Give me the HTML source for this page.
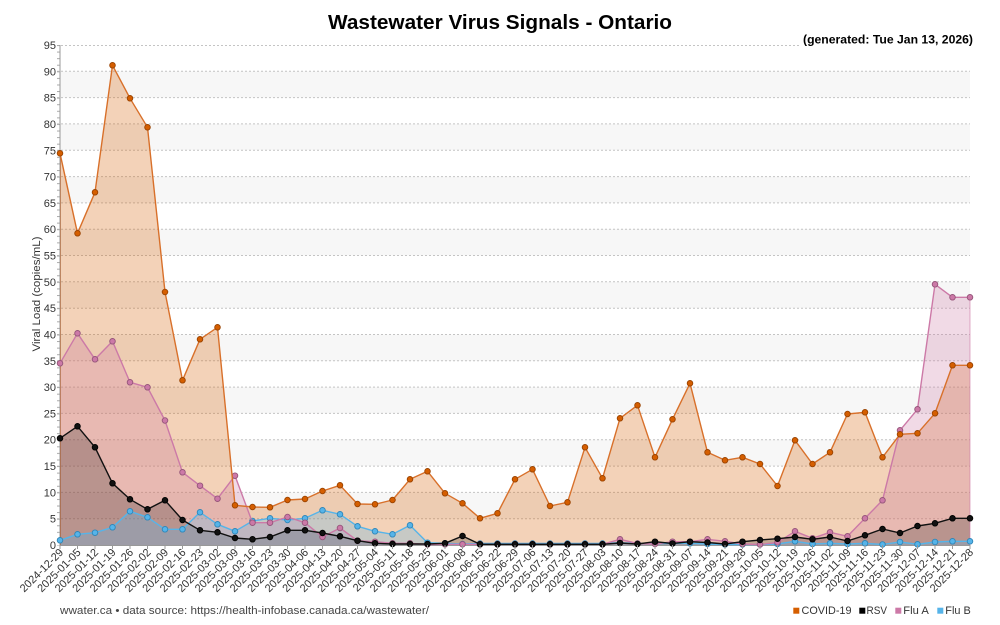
<!DOCTYPE html>
<html><head><meta charset="utf-8"><style>
html,body{margin:0;padding:0;background:#fff;}
svg{display:block;}
text{font-family:"Liberation Sans","DejaVu Sans",sans-serif;}
</style></head><body>
<svg width="1000" height="625" viewBox="0 0 1000 625" xmlns="http://www.w3.org/2000/svg">
<defs>
<pattern id="mt" x="0" y="45" width="10" height="6.5789" patternUnits="userSpaceOnUse"><rect x="0" y="0" width="10" height="1" fill="#aaa"/></pattern>
<marker id="mC" markerWidth="8" markerHeight="8" refX="4" refY="4" markerUnits="userSpaceOnUse"><circle cx="4" cy="4" r="2.8" fill="#d55e00" stroke="#9a4300" stroke-width="0.9"/></marker>
<marker id="mA" markerWidth="8" markerHeight="8" refX="4" refY="4" markerUnits="userSpaceOnUse"><circle cx="4" cy="4" r="2.8" fill="#cc79a7" stroke="#95557a" stroke-width="0.9"/></marker>
<marker id="mR" markerWidth="8" markerHeight="8" refX="4" refY="4" markerUnits="userSpaceOnUse"><circle cx="4" cy="4" r="2.8" fill="#111" stroke="#000" stroke-width="0.9"/></marker>
<marker id="mB" markerWidth="8" markerHeight="8" refX="4" refY="4" markerUnits="userSpaceOnUse"><circle cx="4" cy="4" r="2.8" fill="#56b4e9" stroke="#2f86b8" stroke-width="0.9"/></marker>
</defs>

<!-- bands -->
<g fill="#f7f7f7">
<rect x="60" y="71.3" width="910" height="26.3"/>
<rect x="60" y="123.9" width="910" height="26.3"/>
<rect x="60" y="176.6" width="910" height="26.3"/>
<rect x="60" y="229.2" width="910" height="26.3"/>
<rect x="60" y="281.8" width="910" height="26.3"/>
<rect x="60" y="334.5" width="910" height="26.3"/>
<rect x="60" y="387.1" width="910" height="26.3"/>
<rect x="60" y="439.7" width="910" height="26.3"/>
<rect x="60" y="492.4" width="910" height="26.3"/>
</g>
<!-- grid -->
<g stroke="#c4c4c4" stroke-width="1" stroke-dasharray="2 2">
<line x1="57" y1="45.5" x2="970" y2="45.5"/>
<line x1="57" y1="71.3" x2="970" y2="71.3"/>
<line x1="57" y1="97.6" x2="970" y2="97.6"/>
<line x1="57" y1="123.9" x2="970" y2="123.9"/>
<line x1="57" y1="150.3" x2="970" y2="150.3"/>
<line x1="57" y1="176.6" x2="970" y2="176.6"/>
<line x1="57" y1="202.9" x2="970" y2="202.9"/>
<line x1="57" y1="229.2" x2="970" y2="229.2"/>
<line x1="57" y1="255.5" x2="970" y2="255.5"/>
<line x1="57" y1="281.8" x2="970" y2="281.8"/>
<line x1="57" y1="308.2" x2="970" y2="308.2"/>
<line x1="57" y1="334.5" x2="970" y2="334.5"/>
<line x1="57" y1="360.8" x2="970" y2="360.8"/>
<line x1="57" y1="387.1" x2="970" y2="387.1"/>
<line x1="57" y1="413.4" x2="970" y2="413.4"/>
<line x1="57" y1="439.7" x2="970" y2="439.7"/>
<line x1="57" y1="466.1" x2="970" y2="466.1"/>
<line x1="57" y1="492.4" x2="970" y2="492.4"/>
<line x1="57" y1="518.7" x2="970" y2="518.7"/>
</g>
<rect x="57" y="44.5" width="3" height="501" fill="url(#mt)"/>
<line x1="60" y1="45" x2="60" y2="545" stroke="#999" stroke-width="1"/>

<!-- fills -->
<path fill="#d55e00" fill-opacity="0.28" d="M60,545 L60,153.3 77.5,233.3 95,192.3 112.5,65.3 130,98.3 147.5,127.3 165,292 182.5,380.3 200,339.3 217.5,327.3 235,505.3 252.5,507 270,507.3 287.5,500 305,499 322.5,491 340,485.3 357.5,504 375,504.3 392.5,500 410,479.3 427.5,471.3 445,493.3 462.5,503.3 480,518.3 497.5,513.3 515,479.3 532.5,469.3 550,506 567.5,502.3 585,447.3 602.5,478.3 620,418.3 637.5,405.3 655,457.3 672.5,419.3 690,383.3 707.5,452.3 725,460.3 742.5,457.3 760,464 777.5,486 795,440.3 812.5,464 830,452.3 847.5,414 865,412.3 882.5,457.3 900,434.3 917.5,433.3 935,413.3 952.5,365.3 970,365.3 L970,545 Z"/>
<path fill="#cc79a7" fill-opacity="0.28" d="M60,545 L60,363.3 77.5,333.3 95,359.3 112.5,341.3 130,382.3 147.5,387.3 165,420.5 182.5,472.3 200,485.7 217.5,498.7 235,475.7 252.5,522.7 270,522.7 287.5,517 305,522.7 322.5,537 340,528 357.5,540.7 375,541.7 392.5,543.3 410,543.3 427.5,544.5 445,544.3 462.5,544.3 480,544.3 497.5,544.3 515,544.3 532.5,544.3 550,544.3 567.5,544.3 585,544.3 602.5,544.3 620,539.3 637.5,543.5 655,544 672.5,541.7 690,541.7 707.5,539.3 725,541.3 742.5,544 760,544.5 777.5,542.5 795,531.3 812.5,538.3 830,532.3 847.5,536.3 865,518.3 882.5,500.3 900,430.3 917.5,409.3 935,284.3 952.5,297.3 970,297.3 L970,545 Z"/>
<path fill="#000" fill-opacity="0.2" d="M60,545 L60,438.3 77.5,426.3 95,447.3 112.5,483.3 130,499.3 147.5,509.3 165,500.3 182.5,520 200,530.3 217.5,532.3 235,538 252.5,539.3 270,537 287.5,530.3 305,530.3 322.5,533 340,536.3 357.5,540.7 375,543.3 392.5,544 410,544 427.5,544 445,543.3 462.5,536 480,544.3 497.5,544.3 515,544.3 532.5,544.3 550,544.3 567.5,544.3 585,544.3 602.5,544.3 620,543 637.5,544 655,541.7 672.5,543.5 690,541.7 707.5,542.5 725,544 742.5,541.7 760,540 777.5,538.7 795,537 812.5,539.3 830,537 847.5,541 865,535.3 882.5,529 900,533 917.5,526 935,523.3 952.5,518.3 970,518.3 L970,545 Z"/>
<path fill="#56b4e9" fill-opacity="0.28" d="M60,545 L60,540.3 77.5,534.3 95,532.7 112.5,527.3 130,511.3 147.5,517.3 165,529.3 182.5,529.3 200,512.3 217.5,524.3 235,531.3 252.5,521 270,518.3 287.5,520 305,518.3 322.5,510.3 340,514.3 357.5,526.3 375,531.3 392.5,534.3 410,525.3 427.5,542.7 445,543.3 462.5,544 480,543.5 497.5,543.5 515,543.5 532.5,543.5 550,543.5 567.5,543.5 585,543.5 602.5,543.5 620,542.7 637.5,543.5 655,543.5 672.5,543.3 690,543.3 707.5,544 725,544.5 742.5,544.5 760,544.5 777.5,544 795,541.3 812.5,544 830,543.3 847.5,544 865,543.3 882.5,544.5 900,542 917.5,544.3 935,542 952.5,541.3 970,541.3 L970,545 Z"/>
<!-- edge strokes -->
<line x1="60.5" y1="153.3" x2="60.5" y2="545" stroke="#b06a40" stroke-opacity="0.6"/>
<line x1="970" y1="297.3" x2="970" y2="545" stroke="#cc79a7" stroke-opacity="0.6"/>

<!-- axis -->
<line x1="60" y1="545.5" x2="970" y2="545.5" stroke="#999" stroke-width="1"/>

<!-- lines -->
<g fill="none" stroke-width="1.4" stroke-linejoin="round">
<polyline stroke="#56b4e9" marker-start="url(#mB)" marker-mid="url(#mB)" marker-end="url(#mB)" points="60,540.3 77.5,534.3 95,532.7 112.5,527.3 130,511.3 147.5,517.3 165,529.3 182.5,529.3 200,512.3 217.5,524.3 235,531.3 252.5,521 270,518.3 287.5,520 305,518.3 322.5,510.3 340,514.3 357.5,526.3 375,531.3 392.5,534.3 410,525.3 427.5,542.7 445,543.3 462.5,544 480,543.5 497.5,543.5 515,543.5 532.5,543.5 550,543.5 567.5,543.5 585,543.5 602.5,543.5 620,542.7 637.5,543.5 655,543.5 672.5,543.3 690,543.3 707.5,544 725,544.5 742.5,544.5 760,544.5 777.5,544 795,541.3 812.5,544 830,543.3 847.5,544 865,543.3 882.5,544.5 900,542 917.5,544.3 935,542 952.5,541.3 970,541.3"/>
<polyline stroke="#cc79a7" marker-start="url(#mA)" marker-mid="url(#mA)" marker-end="url(#mA)" points="60,363.3 77.5,333.3 95,359.3 112.5,341.3 130,382.3 147.5,387.3 165,420.5 182.5,472.3 200,485.7 217.5,498.7 235,475.7 252.5,522.7 270,522.7 287.5,517 305,522.7 322.5,537 340,528 357.5,540.7 375,541.7 392.5,543.3 410,543.3 427.5,544.5 445,544.3 462.5,544.3 480,544.3 497.5,544.3 515,544.3 532.5,544.3 550,544.3 567.5,544.3 585,544.3 602.5,544.3 620,539.3 637.5,543.5 655,544 672.5,541.7 690,541.7 707.5,539.3 725,541.3 742.5,544 760,544.5 777.5,542.5 795,531.3 812.5,538.3 830,532.3 847.5,536.3 865,518.3 882.5,500.3 900,430.3 917.5,409.3 935,284.3 952.5,297.3 970,297.3"/>
<polyline stroke="#111" marker-start="url(#mR)" marker-mid="url(#mR)" marker-end="url(#mR)" points="60,438.3 77.5,426.3 95,447.3 112.5,483.3 130,499.3 147.5,509.3 165,500.3 182.5,520 200,530.3 217.5,532.3 235,538 252.5,539.3 270,537 287.5,530.3 305,530.3 322.5,533 340,536.3 357.5,540.7 375,543.3 392.5,544 410,544 427.5,544 445,543.3 462.5,536 480,544.3 497.5,544.3 515,544.3 532.5,544.3 550,544.3 567.5,544.3 585,544.3 602.5,544.3 620,543 637.5,544 655,541.7 672.5,543.5 690,541.7 707.5,542.5 725,544 742.5,541.7 760,540 777.5,538.7 795,537 812.5,539.3 830,537 847.5,541 865,535.3 882.5,529 900,533 917.5,526 935,523.3 952.5,518.3 970,518.3"/>
<polyline stroke="#d8702a" marker-start="url(#mC)" marker-mid="url(#mC)" marker-end="url(#mC)" points="60,153.3 77.5,233.3 95,192.3 112.5,65.3 130,98.3 147.5,127.3 165,292 182.5,380.3 200,339.3 217.5,327.3 235,505.3 252.5,507 270,507.3 287.5,500 305,499 322.5,491 340,485.3 357.5,504 375,504.3 392.5,500 410,479.3 427.5,471.3 445,493.3 462.5,503.3 480,518.3 497.5,513.3 515,479.3 532.5,469.3 550,506 567.5,502.3 585,447.3 602.5,478.3 620,418.3 637.5,405.3 655,457.3 672.5,419.3 690,383.3 707.5,452.3 725,460.3 742.5,457.3 760,464 777.5,486 795,440.3 812.5,464 830,452.3 847.5,414 865,412.3 882.5,457.3 900,434.3 917.5,433.3 935,413.3 952.5,365.3 970,365.3"/>
</g>

<!-- x ticks -->
<g stroke="#999" stroke-width="1">
<path d="M60,545v4M77.5,545v4M95,545v4M112.5,545v4M130,545v4M147.5,545v4M165,545v4M182.5,545v4M200,545v4M217.5,545v4M235,545v4M252.5,545v4M270,545v4M287.5,545v4M305,545v4M322.5,545v4M340,545v4M357.5,545v4M375,545v4M392.5,545v4M410,545v4M427.5,545v4M445,545v4M462.5,545v4M480,545v4M497.5,545v4M515,545v4M532.5,545v4M550,545v4M567.5,545v4M585,545v4M602.5,545v4M620,545v4M637.5,545v4M655,545v4M672.5,545v4M690,545v4M707.5,545v4M725,545v4M742.5,545v4M760,545v4M777.5,545v4M795,545v4M812.5,545v4M830,545v4M847.5,545v4M865,545v4M882.5,545v4M900,545v4M917.5,545v4M935,545v4M952.5,545v4M970,545v4"/>
</g>

<!-- y labels -->
<g font-size="11" fill="#333" text-anchor="end">
<text x="56" y="549">0</text>
<text x="56" y="522.7">5</text>
<text x="56" y="496.4">10</text>
<text x="56" y="470.1">15</text>
<text x="56" y="443.7">20</text>
<text x="56" y="417.4">25</text>
<text x="56" y="391.1">30</text>
<text x="56" y="364.8">35</text>
<text x="56" y="338.5">40</text>
<text x="56" y="312.2">45</text>
<text x="56" y="285.8">50</text>
<text x="56" y="259.5">55</text>
<text x="56" y="233.2">60</text>
<text x="56" y="206.9">65</text>
<text x="56" y="180.6">70</text>
<text x="56" y="154.3">75</text>
<text x="56" y="127.9">80</text>
<text x="56" y="101.6">85</text>
<text x="56" y="75.3">90</text>
<text x="56" y="49">95</text>
</g>
<text x="0" y="0" font-size="11" fill="#333" text-anchor="middle" transform="translate(40,294) rotate(-90)" textLength="115" lengthAdjust="spacingAndGlyphs">Viral Load (copies/mL)</text>

<!-- x labels -->
<g font-size="11" fill="#333" text-anchor="end">
<text transform="translate(64,553) rotate(-45)">2024-12-29</text>
<text transform="translate(81.5,553) rotate(-45)">2025-01-05</text>
<text transform="translate(99,553) rotate(-45)">2025-01-12</text>
<text transform="translate(116.5,553) rotate(-45)">2025-01-19</text>
<text transform="translate(134,553) rotate(-45)">2025-01-26</text>
<text transform="translate(151.5,553) rotate(-45)">2025-02-02</text>
<text transform="translate(169,553) rotate(-45)">2025-02-09</text>
<text transform="translate(186.5,553) rotate(-45)">2025-02-16</text>
<text transform="translate(204,553) rotate(-45)">2025-02-23</text>
<text transform="translate(221.5,553) rotate(-45)">2025-03-02</text>
<text transform="translate(239,553) rotate(-45)">2025-03-09</text>
<text transform="translate(256.5,553) rotate(-45)">2025-03-16</text>
<text transform="translate(274,553) rotate(-45)">2025-03-23</text>
<text transform="translate(291.5,553) rotate(-45)">2025-03-30</text>
<text transform="translate(309,553) rotate(-45)">2025-04-06</text>
<text transform="translate(326.5,553) rotate(-45)">2025-04-13</text>
<text transform="translate(344,553) rotate(-45)">2025-04-20</text>
<text transform="translate(361.5,553) rotate(-45)">2025-04-27</text>
<text transform="translate(379,553) rotate(-45)">2025-05-04</text>
<text transform="translate(396.5,553) rotate(-45)">2025-05-11</text>
<text transform="translate(414,553) rotate(-45)">2025-05-18</text>
<text transform="translate(431.5,553) rotate(-45)">2025-05-25</text>
<text transform="translate(449,553) rotate(-45)">2025-06-01</text>
<text transform="translate(466.5,553) rotate(-45)">2025-06-08</text>
<text transform="translate(484,553) rotate(-45)">2025-06-15</text>
<text transform="translate(501.5,553) rotate(-45)">2025-06-22</text>
<text transform="translate(519,553) rotate(-45)">2025-06-29</text>
<text transform="translate(536.5,553) rotate(-45)">2025-07-06</text>
<text transform="translate(554,553) rotate(-45)">2025-07-13</text>
<text transform="translate(571.5,553) rotate(-45)">2025-07-20</text>
<text transform="translate(589,553) rotate(-45)">2025-07-27</text>
<text transform="translate(606.5,553) rotate(-45)">2025-08-03</text>
<text transform="translate(624,553) rotate(-45)">2025-08-10</text>
<text transform="translate(641.5,553) rotate(-45)">2025-08-17</text>
<text transform="translate(659,553) rotate(-45)">2025-08-24</text>
<text transform="translate(676.5,553) rotate(-45)">2025-08-31</text>
<text transform="translate(694,553) rotate(-45)">2025-09-07</text>
<text transform="translate(711.5,553) rotate(-45)">2025-09-14</text>
<text transform="translate(729,553) rotate(-45)">2025-09-21</text>
<text transform="translate(746.5,553) rotate(-45)">2025-09-28</text>
<text transform="translate(764,553) rotate(-45)">2025-10-05</text>
<text transform="translate(781.5,553) rotate(-45)">2025-10-12</text>
<text transform="translate(799,553) rotate(-45)">2025-10-19</text>
<text transform="translate(816.5,553) rotate(-45)">2025-10-26</text>
<text transform="translate(834,553) rotate(-45)">2025-11-02</text>
<text transform="translate(851.5,553) rotate(-45)">2025-11-09</text>
<text transform="translate(869,553) rotate(-45)">2025-11-16</text>
<text transform="translate(886.5,553) rotate(-45)">2025-11-23</text>
<text transform="translate(904,553) rotate(-45)">2025-11-30</text>
<text transform="translate(921.5,553) rotate(-45)">2025-12-07</text>
<text transform="translate(939,553) rotate(-45)">2025-12-14</text>
<text transform="translate(956.5,553) rotate(-45)">2025-12-21</text>
<text transform="translate(974,553) rotate(-45)">2025-12-28</text>
</g>

<!-- title -->
<text x="500" y="29" font-size="20" font-weight="bold" fill="#000" text-anchor="middle" textLength="344" lengthAdjust="spacingAndGlyphs">Wastewater Virus Signals - Ontario</text>
<rect x="800" y="32" width="178" height="15" fill="#fff"/>
<text x="973" y="43.5" font-size="12" font-weight="bold" fill="#000" text-anchor="end" textLength="170" lengthAdjust="spacingAndGlyphs">(generated: Tue Jan 13, 2026)</text>

<!-- footer -->
<text x="60" y="614" font-size="11" fill="#444" textLength="369" lengthAdjust="spacingAndGlyphs">wwater.ca • data source: https://health-infobase.canada.ca/wastewater/</text>
<g font-size="11" fill="#333">
<rect x="793.3" y="607.7" width="6" height="6" fill="#d55e00"/>
<text x="801.5" y="614" textLength="50" lengthAdjust="spacingAndGlyphs">COVID-19</text>
<rect x="859.3" y="607.7" width="6" height="6" fill="#000"/>
<text x="866.5" y="614" textLength="20.5" lengthAdjust="spacingAndGlyphs">RSV</text>
<rect x="895.3" y="607.7" width="6" height="6" fill="#cc79a7"/>
<text x="903.3" y="614" textLength="25.5" lengthAdjust="spacingAndGlyphs">Flu A</text>
<rect x="937.3" y="607.7" width="6" height="6" fill="#56b4e9"/>
<text x="945.3" y="614" textLength="25.5" lengthAdjust="spacingAndGlyphs">Flu B</text>
</g>
</svg>
</body></html>
